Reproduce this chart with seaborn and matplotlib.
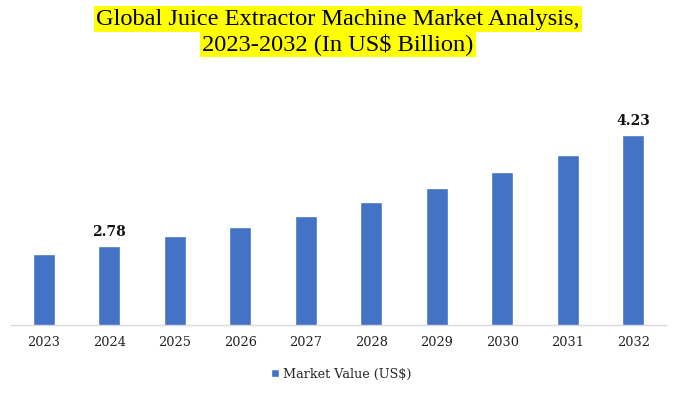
import matplotlib
matplotlib.use("Agg")
import matplotlib.pyplot as plt
import seaborn as sns
import pandas as pd
from matplotlib.patches import Patch

years = ["2023", "2024", "2025", "2026", "2027", "2028", "2029", "2030", "2031", "2032"]
values = [2.67, 2.78, 2.90, 3.03, 3.17, 3.35, 3.53, 3.75, 3.97, 4.23]
labelled = {"2024": "2.78", "2032": "4.23"}
series_name = "Market Value (US$)"
title_lines = ["Global Juice Extractor Machine Market Analysis,", "2023-2032 (In US$ Billion)"]

sns.set_theme(style="white")
plt.rcParams['font.family'] = ['DejaVu Serif']

df = pd.DataFrame({"Year": years, "Value": values, "Series": series_name})

fig = plt.figure(figsize=(6.76, 3.93), dpi=100)
ax = fig.add_axes([11/676, 1-325/393, 655/676, (325-85)/393])
BLUE = "#4472C4"
sns.barplot(data=df, x="Year", y="Value", hue="Series", palette=[BLUE], width=0.33,
            ax=ax, legend=False, saturation=1)
ax.set_ylim(1.739, 4.886)
ax.set_xlim(-0.5, 9.5)
ax.set_xlabel("")
ax.set_ylabel("")
ax.set_yticks([])
for s in ["top", "right", "left"]:
    ax.spines[s].set_visible(False)
ax.spines["bottom"].set_color("#D9D9D9")
ax.spines["bottom"].set_linewidth(1)
ax.tick_params(axis="x", length=0, pad=8, labelsize=9.3, colors="#222222")

for i, (y, v) in enumerate(zip(years, values)):
    if y in labelled:
        ax.annotate(labelled[y], (i, v), xytext=(0, 5), textcoords="offset points",
                    ha="center", va="bottom", fontsize=10, fontweight="bold", color="#111111")

title_font = ['Liberation Serif', 'DejaVu Serif']
fig.text(0.5, 1-19/393, title_lines[0], ha="center", va="center", fontsize=17.6,
         family=title_font, color="black",
         bbox=dict(facecolor="#FFFF00", edgecolor="none", pad=1.8))
fig.text(0.5, 1-44/393, title_lines[1], ha="center", va="center", fontsize=17.6,
         family=title_font, color="black",
         bbox=dict(facecolor="#FFFF00", edgecolor="none", pad=1.8))

fig.legend(handles=[Patch(facecolor=BLUE, label=series_name)], loc="center",
           bbox_to_anchor=(0.505, 1-374/393), frameon=False, fontsize=9.2,
           handlelength=0.6, handleheight=0.6, handletextpad=0.3)

fig.savefig("out.png", dpi=100)
